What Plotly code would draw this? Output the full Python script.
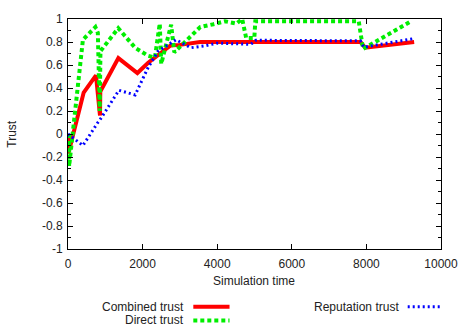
import plotly.graph_objects as go

# Combined trust
combined_t = [0, 10, 420, 750, 858, 866, 1350, 1860, 2150, 2750, 3000, 3540, 7840, 7970, 9280]
combined_v = [0, -0.17, 0.36, 0.51, 0.16, 0.37, 0.66, 0.53, 0.62, 0.77, 0.775, 0.80, 0.80, 0.75, 0.80]

# Direct trust
direct_t = [30, 30, 400, 735, 800, 850, 870, 1347, 1800, 2150, 2330, 2460, 2500, 2765, 2850,
            3545, 3900, 4210, 4515, 4670, 4777, 4995, 5022, 7795, 7910, 9200]
direct_v = [0, -0.28, 0.82, 0.93, 0.88, 0.20, 0.72, 0.92, 0.75, 0.68, 0.665, 0.96, 0.61, 0.95, 0.71,
            0.93, 0.955, 0.98, 0.96, 1.0, 0.835, 0.835, 0.98, 0.98, 0.74, 0.98]

# Reputation trust
reputation_t = [0, 400, 800, 860, 1365, 1800, 2150, 2415, 2895, 3290, 3640, 3990, 4900, 5040, 7840, 7926, 9280]
reputation_v = [0, -0.10, 0.10, 0.125, 0.38, 0.34, 0.58, 0.72, 0.82, 0.75, 0.765, 0.79, 0.78, 0.815, 0.81, 0.755, 0.83]

x_ticks = [0, 2000, 4000, 6000, 8000, 10000]
x_tick_text = ["0", "2000", "4000", "6000", "8000", "10000"]
y_ticks = [-1, -0.8, -0.6, -0.4, -0.2, 0, 0.2, 0.4, 0.6, 0.8, 1]
y_tick_text = ["-1", "-0.8", "-0.6", "-0.4", "-0.2", "0", "0.2", "0.4", "0.6", "0.8", "1"]

FONT = "Liberation Sans, Arial, sans-serif"
W, H = 470, 327
L, R, T, B = 68, 21, 14, 78

styles = {
    "Combined trust": dict(color="#ff0000", width=4, dash="solid"),
    "Direct trust": dict(color="#00ee00", width=4, dash="4px,3px"),
    "Reputation trust": dict(color="#0000ff", width=3, dash="2px,3px"),
}

fig = go.Figure()
for name, t, v in [("Combined trust", combined_t, combined_v),
                   ("Direct trust", direct_t, direct_v),
                   ("Reputation trust", reputation_t, reputation_v)]:
    fig.add_trace(go.Scatter(x=t, y=v, mode="lines", name=name, line=styles[name],
                             showlegend=False))

axis_common = dict(showline=True, linecolor="black", linewidth=1, mirror="allticks",
                   ticks="inside", tickcolor="black", showgrid=False, zeroline=False,
                   tickfont=dict(family=FONT, size=12, color="#222"))

fig.update_xaxes(range=[0, 10000], tickvals=x_ticks, ticktext=x_tick_text, ticklen=5,
                 ticklabelstandoff=4, **axis_common)
fig.update_yaxes(range=[-1, 1], tickvals=y_ticks, ticktext=y_tick_text, ticklen=5,
                 ticklabelstandoff=2,
                 minor=dict(dtick=0.1, tick0=0, ticks="inside", ticklen=3, tickcolor="black"),
                 **axis_common)

pw, ph = W - L - R, H - T - B


def px_to_paper(px, py):
    return (px - L) / pw, (H - B - py) / ph


annotations = []
shapes = []
text_font = dict(family=FONT, size=12, color="#222")

# axis titles
ax, ay = px_to_paper(10, 131)
annotations.append(dict(x=ax, y=ay, xref="paper", yref="paper", text="Trust", textangle=-90,
                        xanchor="center", yanchor="middle", showarrow=False, font=text_font))
ax, ay = px_to_paper(258, 282)
annotations.append(dict(x=ax, y=ay, xref="paper", yref="paper", text="Simulation time",
                        xanchor="center", yanchor="middle", showarrow=False, font=text_font))

# key entries: text right-aligned, sample line to the right
key = [("Combined trust", 187, 308, 196, 233),
       ("Direct trust", 187, 322, 196, 233),
       ("Reputation trust", 407, 308, 415, 450)]
for name, tx, ty, sx0, sx1 in key:
    x0, y0 = px_to_paper(tx, ty)
    annotations.append(dict(x=x0, y=y0, xref="paper", yref="paper", text=name, xanchor="right",
                            yanchor="middle", borderpad=0, showarrow=False, font=text_font))
    a, b = px_to_paper(sx0, ty)
    c, _ = px_to_paper(sx1, ty)
    st = styles[name]
    shapes.append(dict(type="line", xref="paper", yref="paper", x0=a, x1=c, y0=b, y1=b,
                       line=dict(color=st["color"], width=st["width"], dash=st["dash"])))

fig.update_layout(width=W, height=H, margin=dict(l=L, r=R, t=T, b=B, pad=0),
                  paper_bgcolor="white", plot_bgcolor="white",
                  annotations=annotations, shapes=shapes)

fig.write_html("out.html")
